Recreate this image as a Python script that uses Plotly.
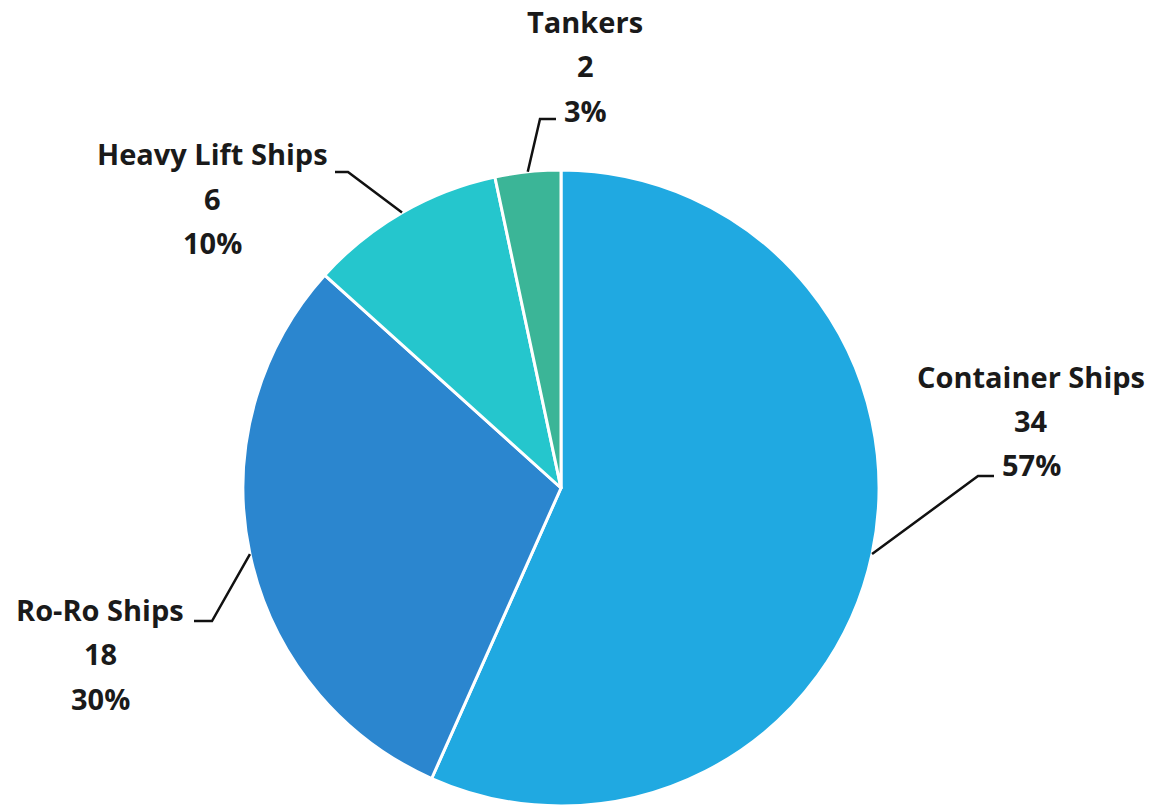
import math
import plotly.graph_objects as go

categories = ["Container Ships", "Ro-Ro Ships", "Heavy Lift Ships", "Tankers"]
counts = [34, 18, 6, 2]
percent_labels = ["57%", "30%", "10%", "3%"]
colors = ["#20A9E1", "#2B86CF", "#25C6CD", "#3BB597"]

W, H = 1152, 808
CX, CY, R = 561, 488, 318

# label block: centre x and centre y of first line (pixels)
label_pos = {
    "Container Ships": (1031, 376),
    "Ro-Ro Ships": (100, 609),
    "Heavy Lift Ships": (212, 154),
    "Tankers": (585, 21),
}
# leader elbow and end (pixels)
elbows = {
    "Container Ships": [(978, 476), (994, 476)],
    "Ro-Ro Ships": [(212, 621), (194, 621)],
    "Heavy Lift Ships": [(348, 172), (335, 172)],
    "Tankers": [(540, 119), (556, 119)],
}
LINE_GAP = 44.5


def px(x):
    return x / W


def py(y):
    return 1 - y / H


fig = go.Figure(go.Pie(
    labels=categories,
    values=counts,
    sort=False,
    direction="clockwise",
    rotation=0,
    marker=dict(colors=colors, line=dict(color="white", width=3)),
    textinfo="none",
    hoverinfo="label+value+percent",
    showlegend=False,
    domain=dict(x=[px(CX - R), px(CX + R)], y=[py(CY + R), py(CY - R)]),
))

font = dict(family="Open Sans", size=29, color="#1a1a1a")
annotations = []
shapes = []
total = sum(counts)
cum = 0
for cat, val, pct in zip(categories, counts, percent_labels):
    mid = (cum + val / 2) / total * 2 * math.pi
    cum += val
    sx = CX + R * math.sin(mid)
    sy = CY - R * math.cos(mid)
    lx, ly = label_pos[cat]
    lines = [cat, str(val), pct]
    for i, t in enumerate(lines):
        annotations.append(dict(
            x=px(lx), y=py(ly + i * LINE_GAP), xref="paper", yref="paper",
            text="<b>%s</b>" % t, showarrow=False, xanchor="center", yanchor="middle",
            font=font,
        ))
    pts = [(sx, sy)] + elbows[cat]
    path = "M %f %f" % (px(pts[0][0]), py(pts[0][1]))
    for (x, y) in pts[1:]:
        path += " L %f %f" % (px(x), py(y))
    shapes.append(dict(type="path", path=path, xref="paper", yref="paper",
                       line=dict(color="#111111", width=2.5)))

fig.update_layout(
    width=W, height=H,
    margin=dict(l=0, r=0, t=0, b=0),
    paper_bgcolor="white", plot_bgcolor="white",
    annotations=annotations, shapes=shapes,
)
fig.write_html(
    "out.html",
    config={"displayModeBar": False},
    post_script="document.body.style.margin='0';document.body.style.overflow='hidden';",
)
